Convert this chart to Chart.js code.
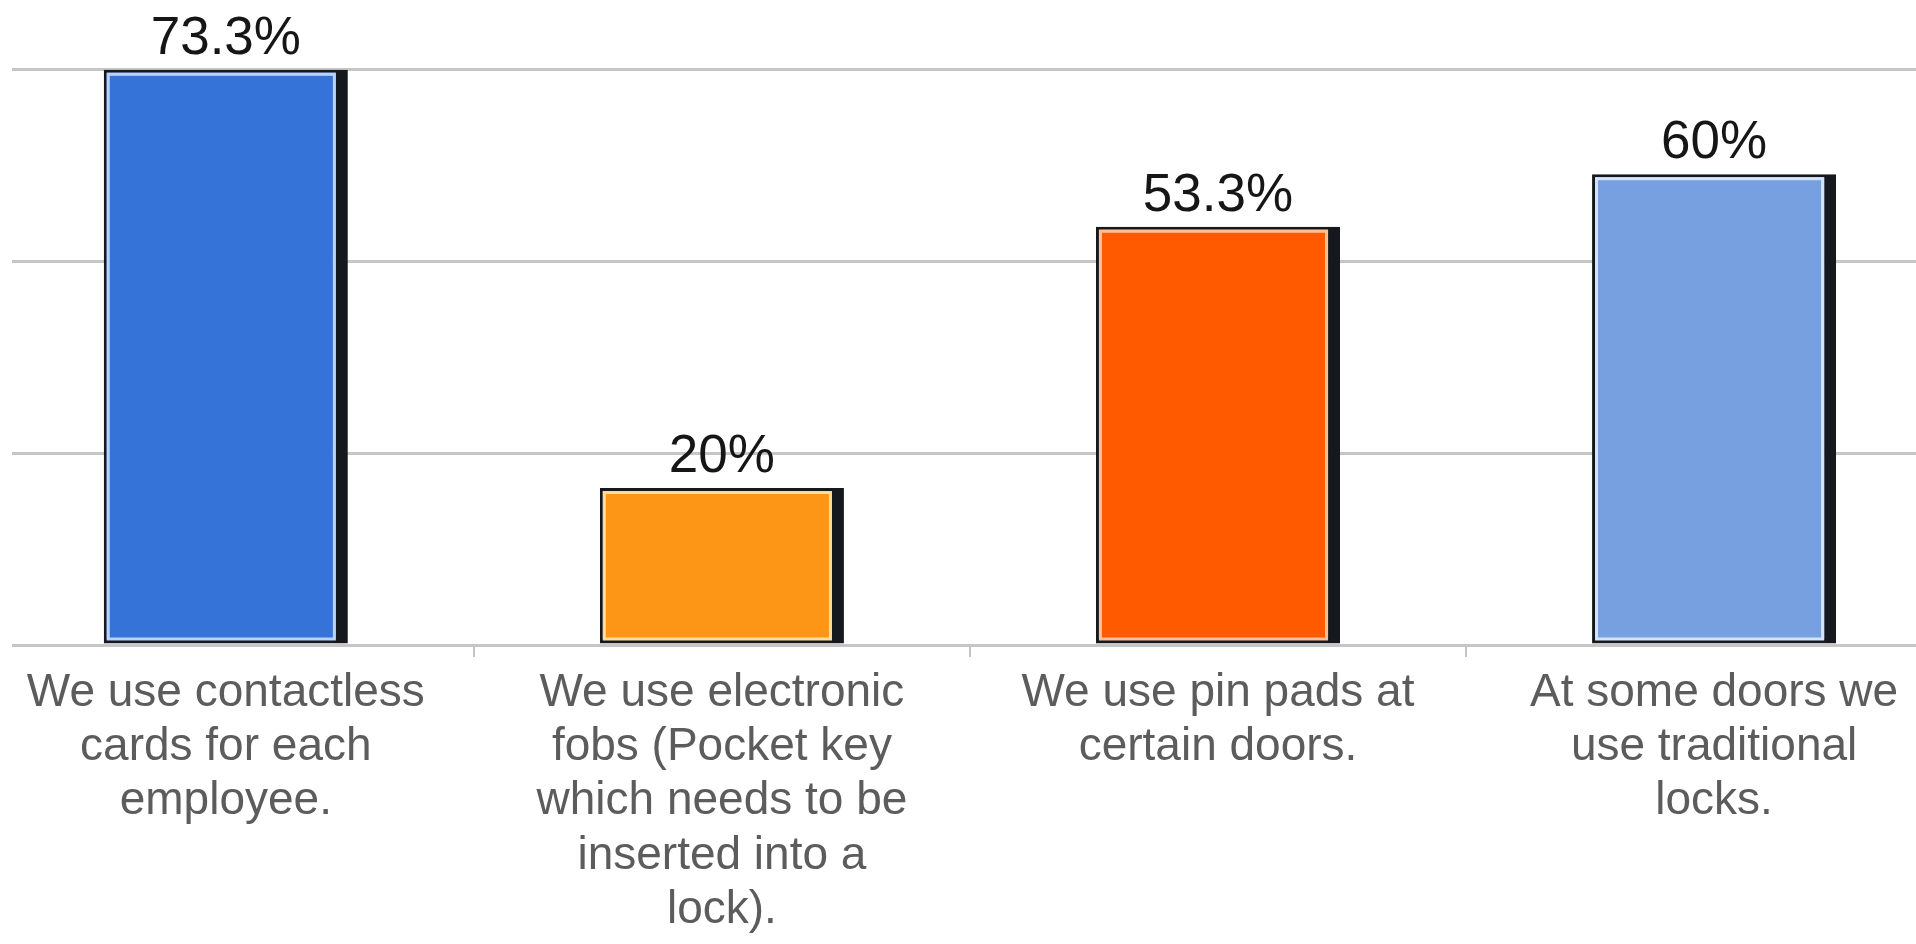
<!DOCTYPE html>
<html>
<head>
<meta charset="utf-8">
<title>Door access methods</title>
<script src="https://cdn.jsdelivr.net/npm/chart.js@4/dist/chart.umd.min.js"></script>
<style>
    html, body { margin: 0; padding: 0; background: #fff; overflow: hidden; }
    canvas { display: block; }
</style>
</head>
<body>
<canvas id="chart" width="1916" height="944"></canvas>
<script>
// 分类标签（按行折开）
const categoryLabels = [
    ["We use contactless", "cards for each", "employee."],
    ["We use electronic", "fobs (Pocket key", "which needs to be", "inserted into a", "lock)."],
    ["We use pin pads at", "certain doors."],
    ["At some doors we", "use traditional", "locks."]
];
// 百分比
const percentValues = [73.3, 20, 53.3, 60];
// 横向网格线所在的值
const gridValues = [0, 24.4, 48.9, 73.3];

const barColors = ['#3673d8', '#fd9517', '#ff5a00', '#76a0e0'];
const barHighlights = ['#b8d2ff', '#ffdca0', '#ffc09a', '#d4e4ff'];

// 每根柱子内侧的浅色描边
const barHighlight = {
    id: 'barHighlight',
    afterDatasetsDraw(chart) {
        const ctx = chart.ctx;
        chart.getDatasetMeta(0).data.forEach((bar, i) => {
            const { x, y, base, width } = bar.getProps(['x', 'y', 'base', 'width'], true);
            const left = x - width / 2 + 3;
            const right = x + width / 2 - 12;
            const top = y + 3;
            const bottom = base - 3;
            ctx.save();
            ctx.strokeStyle = barHighlights[i];
            ctx.lineWidth = 3;
            ctx.strokeRect(left + 1.5, top + 1.5, right - left - 3, bottom - top - 3);
            ctx.restore();
        });
    }
};

// 柱顶数值
const valueLabels = {
    id: 'valueLabels',
    afterDatasetsDraw(chart) {
        const ctx = chart.ctx;
        ctx.save();
        ctx.font = '53px "Liberation Sans", Arial, sans-serif';
        ctx.fillStyle = '#161616';
        ctx.textAlign = 'center';
        ctx.textBaseline = 'alphabetic';
        chart.getDatasetMeta(0).data.forEach((bar, i) => {
            ctx.fillText(percentValues[i] + '%', bar.x, bar.y - 16);
        });
        ctx.restore();
    }
};

// 刻度每半格一个，柱宽按半格算
const chart = new Chart(document.getElementById('chart'), {
    type: 'bar',
    data: {
        datasets: [{
            data: percentValues.map((v, i) => ({ x: i, y: v })),
            backgroundColor: barColors,
            borderColor: '#15181d',
            borderWidth: { top: 3, left: 3, bottom: 4, right: 12 },
            borderSkipped: false,
            categoryPercentage: 1,
            barPercentage: 0.984
        }]
    },
    options: {
        responsive: false,
        devicePixelRatio: 1,
        animation: false,
        layout: { padding: { left: 12, right: 0, top: 0, bottom: 0 } },
        plugins: {
            legend: { display: false },
            tooltip: { enabled: false }
        },
        scales: {
            x: {
                type: 'linear',
                min: -0.431,
                max: 3.407,
                offset: false,
                afterBuildTicks(scale) {
                    scale.ticks = [0, 0.5, 1, 1.5, 2, 2.5, 3].map(v => ({ value: v }));
                },
                afterFit(scale) { scale.height = 299; },
                border: { display: false },
                grid: {
                    offset: false,
                    drawOnChartArea: false,
                    drawTicks: true,
                    tickLength: 12,
                    lineWidth: 2,
                    color: (c) => (c.tick && !Number.isInteger(c.tick.value)) ? '#c4c4c4' : 'rgba(0,0,0,0)'
                },
                ticks: {
                    autoSkip: false,
                    maxRotation: 0,
                    minRotation: 0,
                    padding: 9,
                    color: '#5c5c5c',
                    font: { family: '"Liberation Sans", Arial, sans-serif', size: 46, lineHeight: 1.18 },
                    callback: (value) => Number.isInteger(value) ? categoryLabels[value] : ''
                }
            },
            y: {
                min: 0,
                max: 82.2,
                afterBuildTicks(scale) {
                    scale.ticks = gridValues.map(v => ({ value: v }));
                },
                afterFit(scale) { scale.width = 0; },
                border: { display: false },
                grid: {
                    color: '#c6c6c6',
                    lineWidth: 3,
                    drawTicks: false
                },
                ticks: { display: false }
            }
        }
    },
    plugins: [barHighlight, valueLabels]
});
</script>
</body>
</html>
